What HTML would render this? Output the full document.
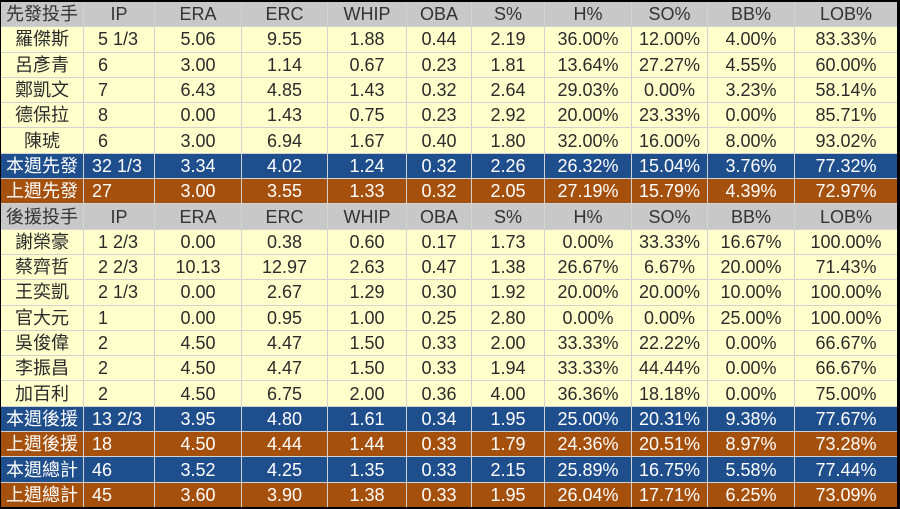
<!DOCTYPE html>
<html><head><meta charset="utf-8">
<style>
html,body{margin:0;padding:0;background:#000;width:900px;height:509px;overflow:hidden;}
.t{position:absolute;left:1px;top:2px;width:896px;height:505px;background:#d2d2d2;display:grid;
grid-template-columns:82px 70px 86px 85px 78px 64px 72px 86px 75px 86px 102px;
grid-template-rows:repeat(20,1fr);gap:1px;
font-family:"Liberation Sans","Noto Sans CJK TC","Noto Sans CJK SC",sans-serif;font-size:18px;}
.t div{display:flex;align-items:center;justify-content:center;white-space:nowrap;overflow:hidden;line-height:1;}
.h{background:#c8c8c8;color:#333;}
.d{background:#ffffcc;color:#2b2b2b;}
.b{background:#1f4e8d;color:#fff;}
.o{background:#a5500c;color:#fff;}
.d.ip{justify-content:flex-start;padding-left:14px;}
.b.ip,.o.ip{justify-content:flex-start;padding-left:8px;}
</style></head><body>
<div class="t">
<div class="h">先發投手</div><div class="h">IP</div><div class="h">ERA</div><div class="h">ERC</div><div class="h">WHIP</div><div class="h">OBA</div><div class="h">S%</div><div class="h">H%</div><div class="h">SO%</div><div class="h">BB%</div><div class="h">LOB%</div>
<div class="d">羅傑斯</div><div class="d ip">5 1/3</div><div class="d">5.06</div><div class="d">9.55</div><div class="d">1.88</div><div class="d">0.44</div><div class="d">2.19</div><div class="d">36.00%</div><div class="d">12.00%</div><div class="d">4.00%</div><div class="d">83.33%</div>
<div class="d">呂彥青</div><div class="d ip">6</div><div class="d">3.00</div><div class="d">1.14</div><div class="d">0.67</div><div class="d">0.23</div><div class="d">1.81</div><div class="d">13.64%</div><div class="d">27.27%</div><div class="d">4.55%</div><div class="d">60.00%</div>
<div class="d">鄭凱文</div><div class="d ip">7</div><div class="d">6.43</div><div class="d">4.85</div><div class="d">1.43</div><div class="d">0.32</div><div class="d">2.64</div><div class="d">29.03%</div><div class="d">0.00%</div><div class="d">3.23%</div><div class="d">58.14%</div>
<div class="d">德保拉</div><div class="d ip">8</div><div class="d">0.00</div><div class="d">1.43</div><div class="d">0.75</div><div class="d">0.23</div><div class="d">2.92</div><div class="d">20.00%</div><div class="d">23.33%</div><div class="d">0.00%</div><div class="d">85.71%</div>
<div class="d">陳琥</div><div class="d ip">6</div><div class="d">3.00</div><div class="d">6.94</div><div class="d">1.67</div><div class="d">0.40</div><div class="d">1.80</div><div class="d">32.00%</div><div class="d">16.00%</div><div class="d">8.00%</div><div class="d">93.02%</div>
<div class="b">本週先發</div><div class="b ip">32 1/3</div><div class="b">3.34</div><div class="b">4.02</div><div class="b">1.24</div><div class="b">0.32</div><div class="b">2.26</div><div class="b">26.32%</div><div class="b">15.04%</div><div class="b">3.76%</div><div class="b">77.32%</div>
<div class="o">上週先發</div><div class="o ip">27</div><div class="o">3.00</div><div class="o">3.55</div><div class="o">1.33</div><div class="o">0.32</div><div class="o">2.05</div><div class="o">27.19%</div><div class="o">15.79%</div><div class="o">4.39%</div><div class="o">72.97%</div>
<div class="h">後援投手</div><div class="h">IP</div><div class="h">ERA</div><div class="h">ERC</div><div class="h">WHIP</div><div class="h">OBA</div><div class="h">S%</div><div class="h">H%</div><div class="h">SO%</div><div class="h">BB%</div><div class="h">LOB%</div>
<div class="d">謝榮豪</div><div class="d ip">1 2/3</div><div class="d">0.00</div><div class="d">0.38</div><div class="d">0.60</div><div class="d">0.17</div><div class="d">1.73</div><div class="d">0.00%</div><div class="d">33.33%</div><div class="d">16.67%</div><div class="d">100.00%</div>
<div class="d">蔡齊哲</div><div class="d ip">2 2/3</div><div class="d">10.13</div><div class="d">12.97</div><div class="d">2.63</div><div class="d">0.47</div><div class="d">1.38</div><div class="d">26.67%</div><div class="d">6.67%</div><div class="d">20.00%</div><div class="d">71.43%</div>
<div class="d">王奕凱</div><div class="d ip">2 1/3</div><div class="d">0.00</div><div class="d">2.67</div><div class="d">1.29</div><div class="d">0.30</div><div class="d">1.92</div><div class="d">20.00%</div><div class="d">20.00%</div><div class="d">10.00%</div><div class="d">100.00%</div>
<div class="d">官大元</div><div class="d ip">1</div><div class="d">0.00</div><div class="d">0.95</div><div class="d">1.00</div><div class="d">0.25</div><div class="d">2.80</div><div class="d">0.00%</div><div class="d">0.00%</div><div class="d">25.00%</div><div class="d">100.00%</div>
<div class="d">吳俊偉</div><div class="d ip">2</div><div class="d">4.50</div><div class="d">4.47</div><div class="d">1.50</div><div class="d">0.33</div><div class="d">2.00</div><div class="d">33.33%</div><div class="d">22.22%</div><div class="d">0.00%</div><div class="d">66.67%</div>
<div class="d">李振昌</div><div class="d ip">2</div><div class="d">4.50</div><div class="d">4.47</div><div class="d">1.50</div><div class="d">0.33</div><div class="d">1.94</div><div class="d">33.33%</div><div class="d">44.44%</div><div class="d">0.00%</div><div class="d">66.67%</div>
<div class="d">加百利</div><div class="d ip">2</div><div class="d">4.50</div><div class="d">6.75</div><div class="d">2.00</div><div class="d">0.36</div><div class="d">4.00</div><div class="d">36.36%</div><div class="d">18.18%</div><div class="d">0.00%</div><div class="d">75.00%</div>
<div class="b">本週後援</div><div class="b ip">13 2/3</div><div class="b">3.95</div><div class="b">4.80</div><div class="b">1.61</div><div class="b">0.34</div><div class="b">1.95</div><div class="b">25.00%</div><div class="b">20.31%</div><div class="b">9.38%</div><div class="b">77.67%</div>
<div class="o">上週後援</div><div class="o ip">18</div><div class="o">4.50</div><div class="o">4.44</div><div class="o">1.44</div><div class="o">0.33</div><div class="o">1.79</div><div class="o">24.36%</div><div class="o">20.51%</div><div class="o">8.97%</div><div class="o">73.28%</div>
<div class="b">本週總計</div><div class="b ip">46</div><div class="b">3.52</div><div class="b">4.25</div><div class="b">1.35</div><div class="b">0.33</div><div class="b">2.15</div><div class="b">25.89%</div><div class="b">16.75%</div><div class="b">5.58%</div><div class="b">77.44%</div>
<div class="o">上週總計</div><div class="o ip">45</div><div class="o">3.60</div><div class="o">3.90</div><div class="o">1.38</div><div class="o">0.33</div><div class="o">1.95</div><div class="o">26.04%</div><div class="o">17.71%</div><div class="o">6.25%</div><div class="o">73.09%</div>
</div>
</body></html>
